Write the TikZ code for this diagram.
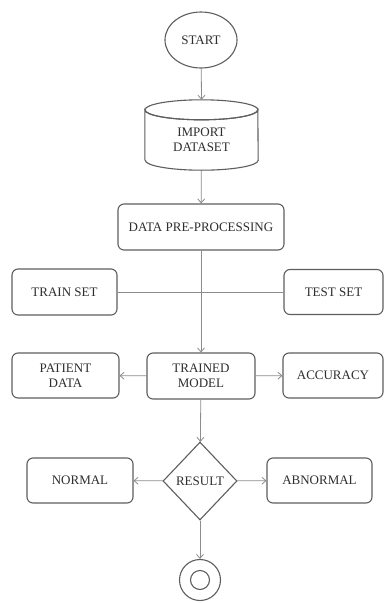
\documentclass[tikz,border=0pt]{standalone}
\usepackage{fontspec}
\setmainfont{Liberation Serif}
\usetikzlibrary{shapes.geometric,arrows.meta}

\begin{document}
\begin{tikzpicture}[x=1pt,y=-1pt,
    font=\fontsize{13}{15}\selectfont,
    >={Straight Barb[length=4pt,width=7pt]},
    stepbox/.style={draw=borderColour, line width=1.1pt, rounded corners=6pt, fill=white,
        text=textColour, align=center, inner sep=2pt},
    link/.style={draw=lineColour, line width=0.8pt}]
    \definecolor{borderColour}{HTML}{5E5E5E}
    \definecolor{lineColour}{HTML}{8C8C8C}
    \definecolor{textColour}{HTML}{2E2E2E}

    % Page frame
    \fill[white] (0,0) rectangle (384,603);
    \useasboundingbox (0,0) rectangle (384,603);

    % Start and dataset
    \node[ellipse, draw=borderColour, line width=1.1pt, text=textColour, inner sep=0,
        minimum width=72pt, minimum height=56pt] (start) at (201,40) {START};
    \node[text=textColour, align=center, inner sep=0, minimum width=113pt, minimum height=60pt]
        (import) at (201.5,140) {IMPORT\\DATASET};
    \draw[draw=borderColour, line width=1.1pt]
        ([yshift=10pt]import.south west) -- (import.north west)
        arc[start angle=180, end angle=360, x radius=56.5pt, y radius=10pt]
        -- ([yshift=10pt]import.south east)
        arc[start angle=0, end angle=-180, x radius=56.5pt, y radius=10pt];
    \draw[draw=borderColour, line width=1.1pt] (import.north) ellipse[x radius=56.5pt, y radius=10pt];

    % Processing and split
    \node[stepbox, minimum width=166pt, minimum height=46pt] (prep) at (201,227) {DATA PRE-PROCESSING};
    \node[stepbox, minimum width=105pt, minimum height=46pt] (train) at (64.5,292) {TRAIN SET};
    \node[stepbox, minimum width=99pt, minimum height=45pt] (test) at (333.5,292) {TEST SET};

    % Model row
    \node[stepbox, minimum width=107pt, minimum height=45pt] (patient) at (65.5,375.5) {PATIENT\\DATA};
    \node[stepbox, minimum width=108pt, minimum height=46pt] (model) at (201,376) {TRAINED\\MODEL};
    \node[stepbox, minimum width=100pt, minimum height=45pt] (accuracy) at (333,375.5) {ACCURACY};

    % Result row
    \node[diamond, draw=borderColour, line width=1.1pt, fill=white, text=textColour, inner sep=0,
        minimum width=74pt, minimum height=78pt] (result) at (200,481) {RESULT};
    \node[stepbox, minimum width=106pt, minimum height=45pt] (normal) at (80,480.5) {NORMAL};
    \node[stepbox, minimum width=105pt, minimum height=45pt] (abnormal) at (319.5,480.5) {ABNORMAL};

    % End point
    \node[circle, draw=borderColour, line width=1.1pt, minimum size=41pt, inner sep=0] (stop) at (200,580) {};
    \node[circle, draw=borderColour, line width=1.1pt, minimum size=19pt, inner sep=0] (stopin) at (stop) {};

    % Connectors
    \draw[link,->] (start) -- ([yshift=10pt]import.north);
    \draw[link,->] (import) -- (prep);
    \draw[link,->] (prep) -- (model);
    \draw[link] (train.east) -- (test.west);
    \draw[link,->] (model) -- (patient);
    \draw[link,->] (model) -- (accuracy);
    \draw[link,->] (model) -- (result);
    \draw[link,->] (result) -- (normal);
    \draw[link,->] (result) -- (abnormal);
    \draw[link,->] (result) -- (stop);

\end{tikzpicture}
\end{document}
